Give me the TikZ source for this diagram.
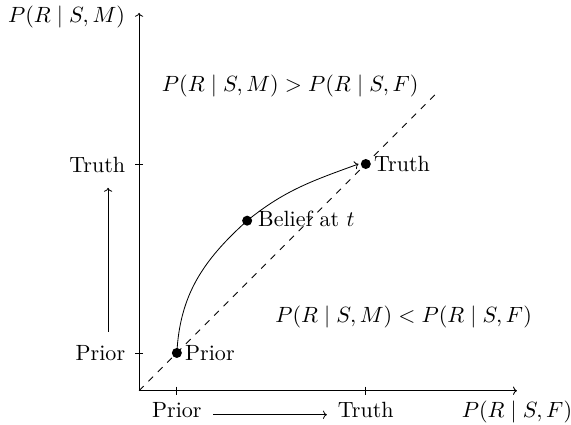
\documentclass[tikz,border=0pt]{standalone}
\usetikzlibrary{arrows.meta}
\newcommand{\bigtxt}[1]{\scalebox{1.66}{#1}}
\begin{document}
\begin{tikzpicture}[
  line width=0.62pt,
  every node/.style={inner sep=0pt},
  axis/.style={->},
  dashline/.style={dash pattern=on 5pt off 5pt},
  dot/.style={circle,fill=black,inner sep=0pt,minimum size=0.265cm},
  ptlabel/.style={anchor=west}
]
\useasboundingbox (-3.68,-0.9) rectangle (11.43,10.34);
% coordinates
\coordinate (O) at (0,0);
\coordinate (xend) at (10,0);
\coordinate (yend) at (0,10);
\coordinate (dend) at (7.95,7.95);
% axes
\draw[axis] (O) -- (xend);
\draw[axis] (O) -- (yend);
\draw[dashline] (O) -- (dend);
% ticks
\coordinate (tx1a) at (1,0.11); \coordinate (tx1b) at (1,-0.11);
\coordinate (tx6a) at (6,0.11); \coordinate (tx6b) at (6,-0.11);
\coordinate (ty1a) at (0.11,1); \coordinate (ty1b) at (-0.11,1);
\coordinate (ty6a) at (0.11,6); \coordinate (ty6b) at (-0.11,6);
\draw (tx1a) -- (tx1b);
\draw (tx6a) -- (tx6b);
\draw (ty1a) -- (ty1b);
\draw (ty6a) -- (ty6b);
% axis labels
\node[anchor=base] (ylab) at (-1.92,9.74) {\bigtxt{$P(R \mid S, M)$}};
\node[anchor=base] (xlab) at (10,-0.714) {\bigtxt{$P(R \mid S, F)$}};
% tick labels
\node[anchor=base] (xprior) at (1,-0.714) {\bigtxt{Prior}};
\node[anchor=base] (xtruth) at (6,-0.714) {\bigtxt{Truth}};
\node[anchor=base east] (yprior) at (-0.357,0.79) {\bigtxt{Prior}};
\node[anchor=base east] (ytruth) at (-0.357,5.77) {\bigtxt{Truth}};
\coordinate (xa) at (1.96,-0.635);
\coordinate (xb) at (4.97,-0.635);
\draw[->] (xa) -- (xb);
\coordinate (ya) at (-0.82,1.56);
\coordinate (yb) at (-0.82,5.37);
\draw[->] (ya) -- (yb);
% points
\node[dot] (p) at (1,1) {};
\node[dot] (b) at (2.86,4.5) {};
\node[dot] (t) at (6,6) {};
\node[ptlabel] (pl) at (1.21,1) {\bigtxt{Prior}};
\node[ptlabel] (bl) at (3.14,4.55) {\bigtxt{Belief at $t$}};
\node[ptlabel] (tl) at (6.21,6) {\bigtxt{Truth}};
\draw (p.center) to[out=87,in=222] (b.center);
\draw[->] (b.center) to[out=39,in=200] ([xshift=-0.05cm]t.west);
% region labels
\node[anchor=base] (above) at (4,7.91) {\bigtxt{$P(R \mid S, M) > P(R \mid S, F)$}};
\node[anchor=base] (below) at (7,1.8) {\bigtxt{$P(R \mid S, M) < P(R \mid S, F)$}};
\end{tikzpicture}
\end{document}
